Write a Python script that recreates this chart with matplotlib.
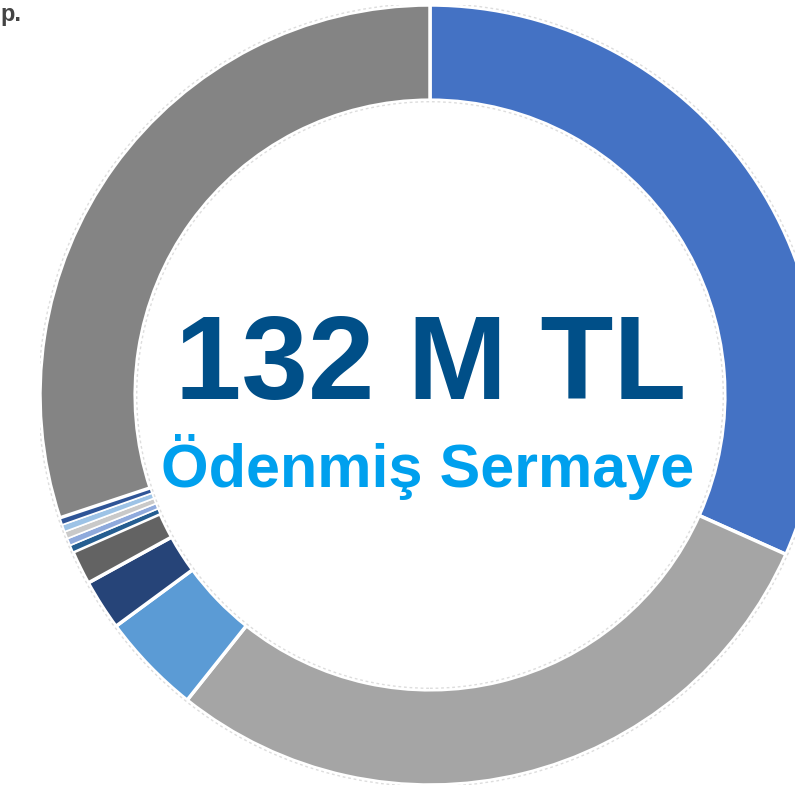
import matplotlib.pyplot as plt

# slice shares (%), clockwise from 12 o'clock
shares = [31.7, 29.0, 4.2, 2.1, 1.4, 0.3, 0.3, 0.3, 0.3, 0.3, 30.1]
colors = ['#4472c4', '#a5a5a5', '#5b9bd5', '#264478', '#636363',
          '#255e91', '#8faadc', '#c9c9c9', '#9dc3e6', '#2f5597', '#848484']

big_label = '132 M TL'
sub_label = 'Ödenmiş Sermaye'

W, H = 795, 787
fig = plt.figure(figsize=(W / 100, H / 100), dpi=100)
fig.patch.set_facecolor('white')

# donut centre at (430, 395) px, outer radius 390 px
cx, cy, r = 430, 395, 390
ax = fig.add_axes([(cx - r) / W, (H - cy - r) / H, 2 * r / W, 2 * r / H])
wedges, _ = ax.pie(shares, colors=colors, startangle=90, counterclock=False,
                   radius=1,
                   wedgeprops=dict(width=0.244, edgecolor='white', linewidth=2.5))
for w in wedges[5:10]:
    w.set_linewidth(1.2)
ax.set_xlim(-1, 1)
ax.set_ylim(-1, 1)
ax.set_aspect('equal')
ax.axis('off')

# faint outline around the ring
for rad in (1.004, 0.752):
    ax.add_patch(plt.Circle((0, 0), rad, fill=False, edgecolor='#dddddd',
                            linewidth=1, linestyle=(0, (2, 2))))

fig.text(431 / W, 1 - 368 / H, big_label, ha='center', va='center',
         fontsize=86, fontweight='bold', color='#004f88',
         family='Liberation Sans')
fig.text(428 / W, 1 - 467 / H, sub_label, ha='center', va='center',
         fontsize=44, fontweight='bold', color='#00a0ee',
         family='Liberation Sans')

# fragment at the top-left corner
fig.text(0, 1 - 14 / H, 'p.', ha='left', va='center',
         fontsize=17, fontweight='bold', color='#444444',
         family='Liberation Sans')

fig.savefig('out.png', dpi=100)
